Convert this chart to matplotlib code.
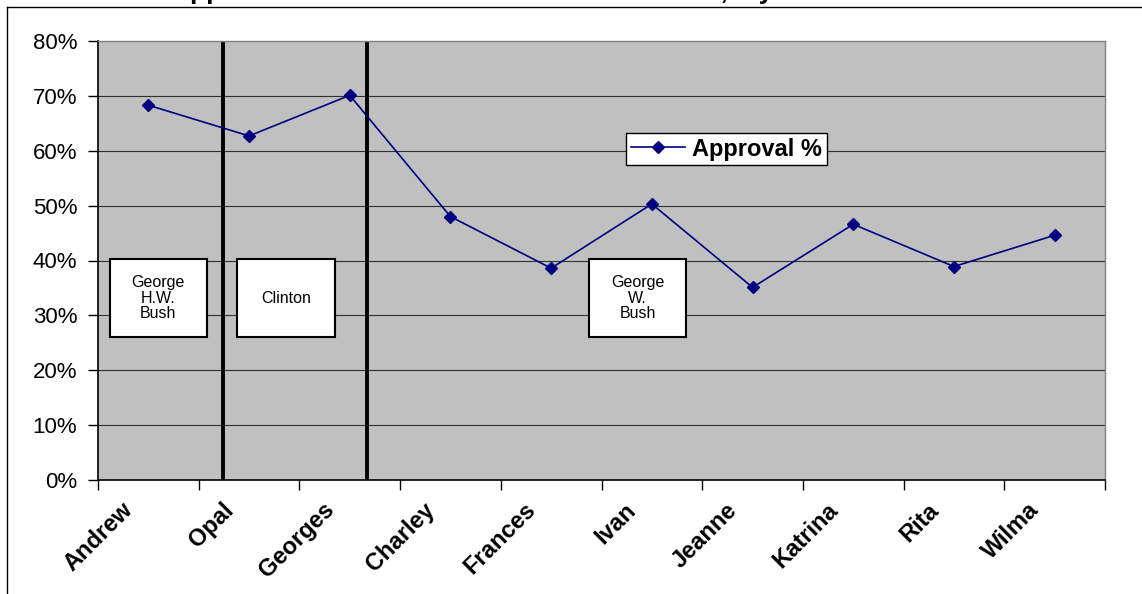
import matplotlib.pyplot as plt
import matplotlib.transforms as mtransforms
from matplotlib.lines import Line2D
from matplotlib.patches import Rectangle
import numpy as np

plt.rcParams['font.family'] = ['Liberation Sans', 'DejaVu Sans']

# data
hurricanes = ["Andrew", "Opal", "Georges", "Charley", "Frances",
              "Ivan", "Jeanne", "Katrina", "Rita", "Wilma"]
approval = [68.3, 62.7, 70.1, 48.0, 38.6, 50.3, 35.1, 46.6, 38.9, 44.6]
y_ticks = [0, 10, 20, 30, 40, 50, 60, 70, 80]

# presidents: label, box left/right in category units
presidents = ["George\nH.W.\nBush", "Clinton", "George\nW.\nBush"]
box_x = [(-0.38, 0.58), (0.88, 1.85), (4.38, 5.34)]
box_y = (26, 40.2)
# term boundaries (between categories)
dividers = [0.74, 2.17]

fig = plt.figure(figsize=(11.42, 5.94), dpi=100)
ax = fig.add_axes([98 / 1142, 1 - 480 / 594, (1105 - 98) / 1142, (480 - 41) / 594])
ax.set_facecolor('#C0C0C0')

x = np.arange(len(hurricanes))
ax.set_xlim(-0.5, len(hurricanes) - 0.5)
ax.set_ylim(0, 80)

# grid
for v in y_ticks[1:-1]:
    ax.axhline(v, color='#303030', lw=0.8, zorder=1)

for d in dividers:
    ax.axvline(d, color='black', lw=2.8, zorder=2)

line, = ax.plot(x, approval, color='#000080', lw=1.2, marker='D',
                markersize=6.5, zorder=4, label='Approval %')

# president boxes
for name, (x0, x1) in zip(presidents, box_x):
    ax.add_patch(Rectangle((x0, box_y[0]), x1 - x0, box_y[1] - box_y[0],
                           facecolor='white', edgecolor='black', lw=1.5, zorder=5))
    ax.text((x0 + x1) / 2, (box_y[0] + box_y[1]) / 2, name, ha='center', va='center',
            fontsize=11.5, linespacing=1.05, zorder=6)

# axes styling
for s in ['top', 'right']:
    ax.spines[s].set_color('#808080')
    ax.spines[s].set_linewidth(1)
for s in ['left', 'bottom']:
    ax.spines[s].set_color('black')
    ax.spines[s].set_linewidth(1.2)

ax.set_yticks(y_ticks)
ax.set_yticklabels([f"{v}%" for v in y_ticks], fontsize=16)
ax.tick_params(axis='y', direction='out', length=7, width=1, pad=8)

ax.set_xticks(x)
ax.set_xticklabels(hurricanes, fontsize=17, fontweight='bold', rotation=45,
                   ha='right', va='center', rotation_mode='anchor')
ax.set_xticks(np.arange(-0.5, len(hurricanes)), minor=True)
ax.tick_params(axis='x', which='major', length=0, pad=19)
ax.tick_params(axis='x', which='minor', direction='out', length=7, width=1)
offset = mtransforms.ScaledTranslation(-19 / 100, 0, fig.dpi_scale_trans)
for lbl in ax.get_xticklabels():
    lbl.set_transform(lbl.get_transform() + offset)

leg = ax.legend(handles=[line], loc='upper left',
                bbox_to_anchor=(626 / 1142, 1 - 133 / 594), bbox_transform=fig.transFigure,
                borderaxespad=0, fancybox=False, edgecolor='black', framealpha=1,
                prop={'weight': 'bold', 'size': 17}, handlelength=2.3,
                borderpad=0.2, handletextpad=0.3)
leg.get_frame().set_linewidth(1)
leg.set_zorder(7)

# chart frame (partly cut off) and clipped title
fig.add_artist(Line2D([7 / 1142, 7 / 1142], [0, 1 - 7 / 594], color='black', lw=1,
                      transform=fig.transFigure))
fig.add_artist(Line2D([7 / 1142, 1], [1 - 7 / 594, 1 - 7 / 594], color='black', lw=1,
                      transform=fig.transFigure))
fig.text(171 / 1142, 1 + 1 / 594, "Approval of Federal Action After Hurricanes,  by President",
         ha='left', va='baseline', fontsize=19, fontweight='bold')

fig.savefig('out.png', dpi=100)
